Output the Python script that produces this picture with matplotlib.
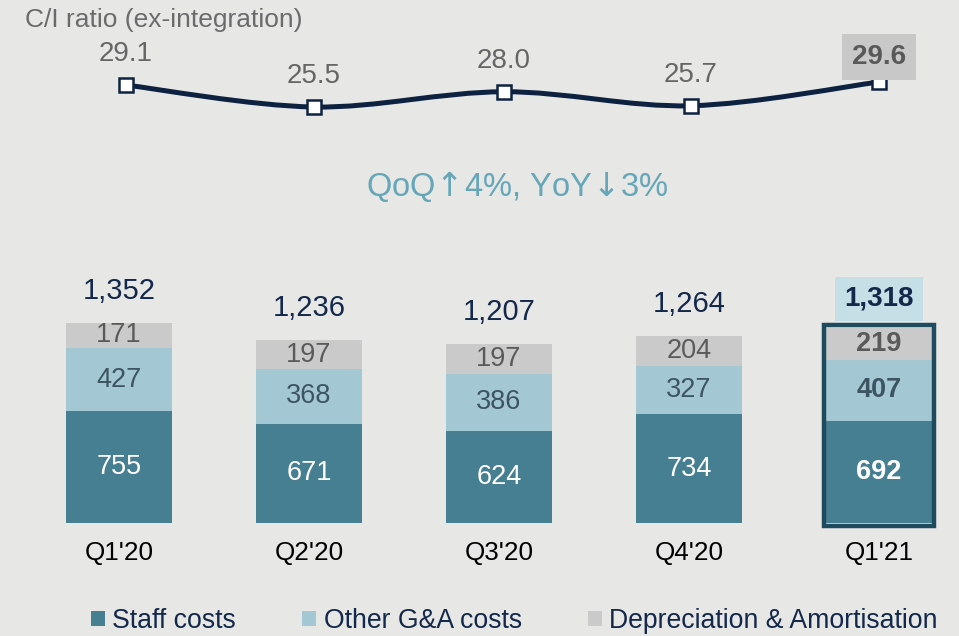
import matplotlib
matplotlib.use("Agg")
from matplotlib import pyplot as plt
from matplotlib.path import Path
from matplotlib.patches import PathPatch, Rectangle
import numpy as np

plt.rcParams['font.family'] = ['Liberation Sans', 'DejaVu Sans']

# data
quarters = ["Q1'20", "Q2'20", "Q3'20", "Q4'20", "Q1'21"]
ci_ratio = [29.1, 25.5, 28.0, 25.7, 29.6]
staff = [755, 671, 624, 734, 692]
other_ga = [427, 368, 386, 327, 407]
dep_amort = [171, 197, 197, 204, 219]
totals = [1352, 1236, 1207, 1264, 1318]
headline = r"QoQ$\!\uparrow\!$4%, YoY$\!\downarrow\!$3%"

bg = '#e7e7e5'
c_staff = '#477f92'
c_other = '#a3c8d4'
c_dep = '#cacacb'
navy = '#13284a'

fig = plt.figure(figsize=(9.59, 6.36), dpi=100, facecolor=bg)

x = np.arange(len(quarters))
left = 24 / 959
width = 950 / 959 * 4.85 / 5

# bar chart
ax = fig.add_axes([left, 113 / 636, width, 273 / 636])
ax.set_facecolor(bg)
ax.set_xlim(-0.5, 4.35)
ax.set_ylim(0, 1845)
for s in ax.spines.values():
    s.set_visible(False)
ax.set_yticks([])

b1 = ax.bar(x, staff, 0.56, color=c_staff, label='Staff costs')
b2 = ax.bar(x, other_ga, 0.56, bottom=staff, color=c_other, label='Other G&A costs')
bottom2 = [a + b for a, b in zip(staff, other_ga)]
b3 = ax.bar(x, dep_amort, 0.56, bottom=bottom2, color=c_dep,
            label='Depreciation & Amortisation')

last = len(quarters) - 1
for bars, vals, col in [(b1, staff, 'white'), (b2, other_ga, '#3d5560'),
                        (b3, dep_amort, '#5a5a5a')]:
    txts = ax.bar_label(bars, labels=[str(v) for v in vals], label_type='center',
                        color=col, fontsize=19.5)
    txts[last].set_fontweight('bold')

for i, t in enumerate(totals):
    lab = f"{t:,}"
    if i == last:
        ax.annotate(lab, (x[i], t), xytext=(0, 21), textcoords='offset points',
                    ha='center', va='center', fontsize=20, color=navy,
                    fontweight='bold',
                    bbox=dict(boxstyle='square,pad=0.33', fc='#c6dee6', ec='none'))
    else:
        ax.annotate(lab, (x[i], t), xytext=(0, 23), textcoords='offset points',
                    ha='center', va='center', fontsize=21, color=navy)

# highlight last bar
ax.add_patch(Rectangle((x[last] - 0.29, -18), 0.58, totals[last] + 36,
                       fill=False, ec='#1f4b5f', lw=3.2, zorder=5, clip_on=False))

ax.set_xticks(x)
ax.set_xticklabels(quarters, fontsize=18.8, color='black')
ax.tick_params(axis='x', length=0, pad=13)

# line chart
lx = fig.add_axes([left, (636 - 140) / 636, width, 100 / 636])
lx.set_xlim(-0.5, 4.35)
lx.set_ylim(20.09, 36.48)
lx.axis('off')

px = x + np.array([0.035, 0.025, 0.025, 0.01, 0.0])
pts = np.column_stack([px, ci_ratio])
verts = [pts[0]]
codes = [Path.MOVETO]
n = len(pts)
for i in range(n - 1):
    p0 = pts[max(i - 1, 0)]
    p1 = pts[i]
    p2 = pts[i + 1]
    p3 = pts[min(i + 2, n - 1)]
    c1 = p1 + (p2 - p0) / 6
    c2 = p2 - (p3 - p1) / 6
    verts += [c1, c2, p2]
    codes += [Path.CURVE4] * 3
lx.add_patch(PathPatch(Path(verts, codes), fc='none', ec='#0d2240', lw=3.6, zorder=2))
lx.plot(px, ci_ratio, ls='none', marker='s', ms=9.5, mfc='white', mec='#0d2240',
        mew=1.8, zorder=3)

for i, v in enumerate(ci_ratio):
    if i == last:
        lx.annotate(f"{v:.1f}", (px[i], v), xytext=(0, 18), textcoords='offset points',
                    ha='center', va='center', fontsize=20, color='#595959',
                    fontweight='bold',
                    bbox=dict(boxstyle='square,pad=0.36', fc='#c8c8c8', ec='none'))
    else:
        lx.annotate(f"{v:.1f}", (px[i], v), xytext=(0, 22), textcoords='offset points',
                    ha='center', va='center', fontsize=20, color='#666666')

fig.text(25 / 959, 1 - 20 / 636, 'C/I ratio (ex-integration)', fontsize=19,
         color='#6b6b6b', ha='left', va='center')
fig.text(517 / 959, 1 - 186 / 636, headline, fontsize=23.5, color='#65a6b8',
         ha='center', va='center')

fig.legend(handles=[b1, b2, b3], loc='center left', bbox_to_anchor=(91 / 959, 1 - 621 / 636),
           ncol=3, frameon=False, fontsize=19.2, labelcolor=navy,
           handlelength=0.52, handleheight=0.52, handletextpad=0.27,
           columnspacing=2.5, borderpad=0, borderaxespad=0)

fig.savefig('out.png', dpi=100, facecolor=bg)
